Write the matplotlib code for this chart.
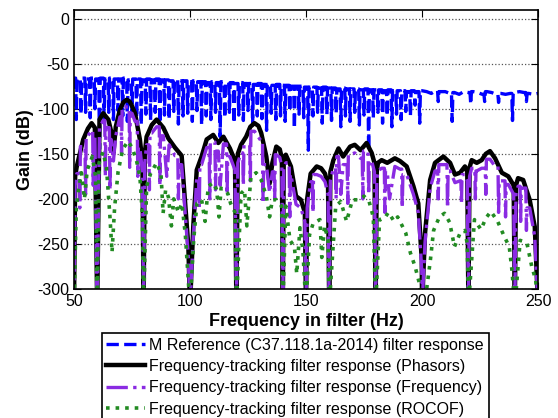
import numpy as np
from matplotlib import pyplot as plt

plt.rcParams['font.family'] = ['Liberation Sans', 'DejaVu Sans']
plt.rcParams['axes.unicode_minus'] = False

# reference filter (C37.118.1a-2014): upper envelope every 2 Hz, plus narrow dips
ref_top_f = np.arange(50, 251, 2)
ref_top_g = [-66, -67, -66, -67, -66, -67, -66, -67, -66, -67,
             -67, -66, -68, -67, -67, -68, -67, -68, -67, -68,
             -68, -69, -68, -69, -69, -70, -69, -70, -70, -71,
             -70, -71, -70, -71, -71, -72, -71, -72, -72, -73,
             -72, -73, -73, -74, -73, -74, -74, -75, -75, -75,
             -76, -76, -76, -77, -76, -77, -77, -78, -77, -78,
             -78, -78, -79, -78, -79, -79, -79, -80, -79, -80,
             -80, -80, -81, -80, -81, -80, -81, -83, -80, -81,
             -81, -83, -82, -84, -81, -82, -81, -82, -84, -81,
             -82, -84, -83, -84, -83, -82, -81, -82, -83, -84,
             -83]
ref_dip_f = [51, 53, 55, 57, 59, 61, 63, 65, 67, 69, 71, 73, 75, 77, 79, 81, 83, 85, 87, 89,
             91, 93, 95, 97, 99, 101, 103, 105, 107, 109, 111, 113, 115, 117, 119, 121, 123, 125, 127, 129,
             131, 133, 135, 137, 139, 141, 143, 145, 147, 149, 151, 153, 155, 157, 159, 161, 163, 165, 167, 169,
             171, 173, 175, 177, 179, 181, 183, 185, 187, 189, 191, 193, 195, 197, 199,
             207, 213, 221, 227, 233, 239, 245]
ref_dip_g = [-112, -106, -104, -110, -100, -145, -116, -104, -112, -102, -108, -114, -103, -110, -118, -106, -113, -104, -116, -107,
             -112, -103, -117, -108, -105, -114, -102, -118, -108, -112, -104, -131, -110, -104, -116, -107, -113, -102, -118, -108,
             -111, -124, -105, -112, -108, -114, -103, -122, -106, -110, -146, -108, -104, -116, -106, -113, -105, -120, -108, -114,
             -104, -118, -107, -146, -110, -104, -116, -108, -120, -106, -112, -103, -108, -96, -116,
             -92, -114, -95, -92, -93, -113, -92]

# frequency-tracking filter, phasors
ph_f = [50, 50.5, 51.2, 54, 56, 57.6, 59, 60, 61, 62.6, 64.8, 66, 67, 68, 69.8, 71.2, 72.7, 74, 75, 76.3, 78.4, 79.5,
        80, 80.5, 81.3, 83.5, 85.6, 88.5, 90.7, 93.5, 96.4, 97.8, 99.3, 100, 101.4, 102.9, 105, 107.2,
        110, 112.2, 114.4, 117.2, 119.4, 120, 120.6, 122, 124.2, 126, 127.8, 129.5, 130.7, 132.9, 134.3, 135.5,
        137.2, 138.7, 139.6, 140, 140.4, 141.3, 143.5, 145.7, 147.8, 149.5, 150, 150.5, 152, 154.6,
        156.5, 158.2, 159.5, 160, 160.5, 161.8, 164, 166, 169, 171, 173.5, 176.1, 178.3, 179.5, 180,
        180.5, 181, 182.6, 185, 188.3, 190.5, 193.4, 196.3, 198.4, 199.9, 200, 201.3, 203.5, 205.6,
        209.2, 212.1, 214.2, 216.4, 218.5, 219.5, 220, 220.5, 221.4, 223.6, 225.7, 227.5, 229.3, 231.5,
        234.4, 237.2, 239.5, 240, 240.5, 241.4, 243.6, 246.4, 248.6, 250]
ph_g = [-320, -175, -164, -134, -122, -116, -121, -320, -112, -105, -112, -125, -149, -120, -101, -93, -90, -92, -97, -105, -134, -160,
        -320, -150, -131, -118, -112, -121, -133, -143, -152, -201, -253, -320, -231, -168, -153, -134,
        -129, -138, -131, -144, -158, -320, -150, -140, -131, -120, -116, -119, -127, -153, -183, -160,
        -142, -145, -155, -320, -155, -151, -164, -197, -201, -215, -320, -200, -172, -164,
        -166, -172, -185, -320, -170, -157, -144, -153, -142, -140, -146, -138, -149, -160, -320,
        -170, -160, -157, -160, -155, -158, -164, -186, -205, -268, -320, -238, -179, -160,
        -153, -160, -173, -171, -164, -170, -320, -165, -157, -160, -157, -150, -147, -155,
        -171, -175, -185, -320, -185, -177, -179, -201, -231, -320]

# frequency-tracking filter, frequency (main curve + its narrow dips)
fr_f = [50, 50.5, 51.2, 54, 56, 57.6, 59, 60, 61, 62.6, 64.8, 66, 67, 68, 69.8, 72.7, 75, 76.3, 78.4, 79.5,
        80, 80.5, 81.3, 83.5, 85.6, 88.5, 90, 91, 93.5, 96.4, 97.8, 99.3, 100, 101.4, 102.9, 105, 107.2,
        110, 112.2, 113, 114.4, 117.2, 119.4, 120, 120.6, 122, 124.2, 127.8, 130.7, 132.9, 134.3, 135.5,
        137.2, 138.7, 139.6, 140, 140.4, 141.3, 143.5, 145.7, 147.8, 149.5, 150, 150.5, 152, 154.6,
        156.5, 158.2, 159.5, 160, 160.5, 161.8, 164, 165, 166, 169, 171, 173.5, 176.1, 178.3, 179.5, 180,
        180.5, 181, 182.6, 185, 186, 188.3, 190.5, 193.4, 196.3, 198.4, 199.9, 200, 201.3, 203.5, 205.6,
        209.2, 212.1, 214.2, 216.4, 218.5, 219.5, 220, 220.5, 221.4, 223.6, 225.7, 229.3, 231.5,
        234.4, 237.2, 239.5, 240, 240.5, 241.4, 243.6, 246.4, 248.6, 250]
fr_g = [-320, -185, -172, -142, -130, -124, -130, -320, -121, -113, -121, -134, -158, -130, -109, -98, -105, -114, -143, -170,
        -320, -160, -140, -127, -120, -130, -175, -140, -152, -162, -212, -265, -320, -243, -178, -162, -143,
        -137, -147, -185, -139, -153, -168, -320, -160, -149, -140, -125, -136, -162, -193, -170,
        -151, -154, -165, -320, -165, -160, -173, -206, -210, -225, -320, -210, -181, -173,
        -175, -181, -195, -320, -180, -166, -153, -195, -162, -151, -149, -155, -147, -158, -170, -320,
        -180, -169, -166, -169, -200, -164, -167, -173, -195, -215, -280, -320, -248, -188, -169,
        -162, -169, -182, -180, -173, -180, -320, -175, -166, -169, -166, -156, -164,
        -180, -184, -195, -320, -195, -186, -188, -210, -242, -320]
fr_dip_f = [52.5, 55, 58.3, 63.5, 65.5, 70.5, 74, 77.5, 82.5, 87, 95, 104, 108.5, 111, 116, 123, 126, 131.5,
            136.5, 143, 153, 163, 168, 174.5, 177, 184, 191.5, 207, 211, 217, 223, 227.5, 233, 236, 242.5, 245]
fr_dip_g = [-210, -195, -185, -175, -190, -150, -165, -175, -190, -185, -200, -210, -200, -190, -195, -185, -180, -205,
            -200, -220, -215, -200, -205, -200, -195, -215, -210, -200, -210, -205, -200, -195, -215, -220, -225, -235]

# frequency-tracking filter, ROCOF
rc_f = [50, 51, 51.7, 53.2, 54.5, 55.7, 57.9, 59.3, 60, 60.8, 62.5, 64, 65.5, 66.4, 67.5, 69, 71, 73.3, 75,
        76.9, 78.4, 79.5, 80, 81.3, 83, 85.6, 87.5, 88.4, 89.5, 90.7, 92, 93, 95, 96.5, 98, 100, 101.6,
        103, 105, 106.5, 107.9, 110, 111.5, 112.5, 113.4, 116.3, 117.5, 119.4, 120, 122, 123.5, 124.5,
        126.3, 128.5, 130.7, 132.9, 134.3, 135.5, 137.2, 139.5, 140, 141.3, 143.1, 145, 146, 147.4,
        148.6, 150, 151.5, 153.1, 156, 156.8, 158, 159.5, 160, 162.8, 165, 167.5, 170, 172.9, 175,
        177.2, 179, 180, 181.7, 184, 185.5, 188, 189.5, 190.9, 193, 195, 197, 199, 200, 202, 203.6,
        205, 207.5, 209.7, 211.9, 214, 216.4, 218.5, 219.5, 220, 222.6, 225.4, 227.6, 229.7, 232.6,
        235.5, 237.6, 238.8, 240, 242.3, 245.2, 247.3, 249, 250]
rc_g = [-320, -210, -194, -171, -200, -168, -153, -175, -320, -160, -148, -165, -220, -259, -210, -170, -145, -136, -143,
        -157, -175, -220, -320, -186, -172, -160, -172, -216, -190, -198, -230, -200, -215, -205, -240, -320, -245,
        -205, -201, -225, -186, -182, -190, -220, -188, -194, -205, -215, -320, -194, -190, -230,
        -175, -171, -179, -197, -220, -201, -201, -208, -320, -208, -246, -253, -283, -232,
        -255, -320, -240, -227, -223, -265, -230, -245, -320, -208, -203, -225, -201, -201, -197,
        -203, -220, -320, -223, -221, -215, -225, -220, -227, -238, -260, -275, -295, -320, -300, -268,
        -235, -220, -216, -226, -253, -238, -235, -250, -320, -223, -234, -221, -214, -225,
        -242, -253, -280, -320, -246, -249, -275, -290, -320]


def with_dips(base_f, base_g, dip_f, dip_g, half=0.3):
    # put each narrow dip into the curve, edges taken from the nearest read samples
    pts = list(zip(base_f, base_g))
    bf = np.asarray(base_f, dtype=float)
    for f, g in zip(dip_f, dip_g):
        left = base_g[np.searchsorted(bf, f) - 1]
        right = base_g[min(np.searchsorted(bf, f), len(bf) - 1)]
        pts += [(f - half, left), (f, g), (f + half, right)]
    pts.sort()
    return [p[0] for p in pts], [p[1] for p in pts]


ref_f, ref_g = with_dips(ref_top_f, ref_top_g, ref_dip_f, ref_dip_g)
fr_all_f, fr_all_g = with_dips(fr_f, fr_g, fr_dip_f, fr_dip_g, half=0.25)

fig = plt.figure(figsize=(5.58, 4.18), dpi=100)
ax = fig.add_axes([0.1326, 0.3086, 0.8316, 0.6684])

ax.plot(ref_f, ref_g, '--', color='#0000ff', lw=2.4,
        label='M Reference (C37.118.1a-2014) filter response')
ax.plot(ph_f, ph_g, '-', color='black', lw=3.2,
        label='Frequency-tracking filter response (Phasors)')
ax.plot(fr_all_f, fr_all_g, '-.', color='#8a2be2', lw=2.4,
        label='Frequency-tracking filter response (Frequency)')
ax.plot(rc_f, rc_g, ':', color='#228b22', lw=2.6,
        label='Frequency-tracking filter response (ROCOF)')

ax.set_xlim(50, 250)
ax.set_ylim(-300, 10)
ax.set_xticks([50, 100, 150, 200, 250])
ax.set_yticks([0, -50, -100, -150, -200, -250, -300])
ax.yaxis.grid(True, linestyle=':', color='#555555', lw=0.9)
ax.tick_params(direction='in', top=True, right=True, labelsize=11.5, length=5)
for s in ax.spines.values():
    s.set_linewidth(1.2)

ax.set_xlabel('Frequency in filter (Hz)', fontsize=13, fontweight='bold', labelpad=3)
ax.set_ylabel('Gain (dB)', fontsize=13, fontweight='bold', labelpad=2)

leg = fig.legend(loc='upper center', bbox_to_anchor=(0.529, 0.204), fontsize=11.5,
                 handlelength=2.4, handletextpad=0.3, labelspacing=0.4, borderaxespad=0,
                 borderpad=0.3, fancybox=False, edgecolor='black', framealpha=1)
leg.get_frame().set_linewidth(1.2)

plt.savefig('out.png', dpi=100)
